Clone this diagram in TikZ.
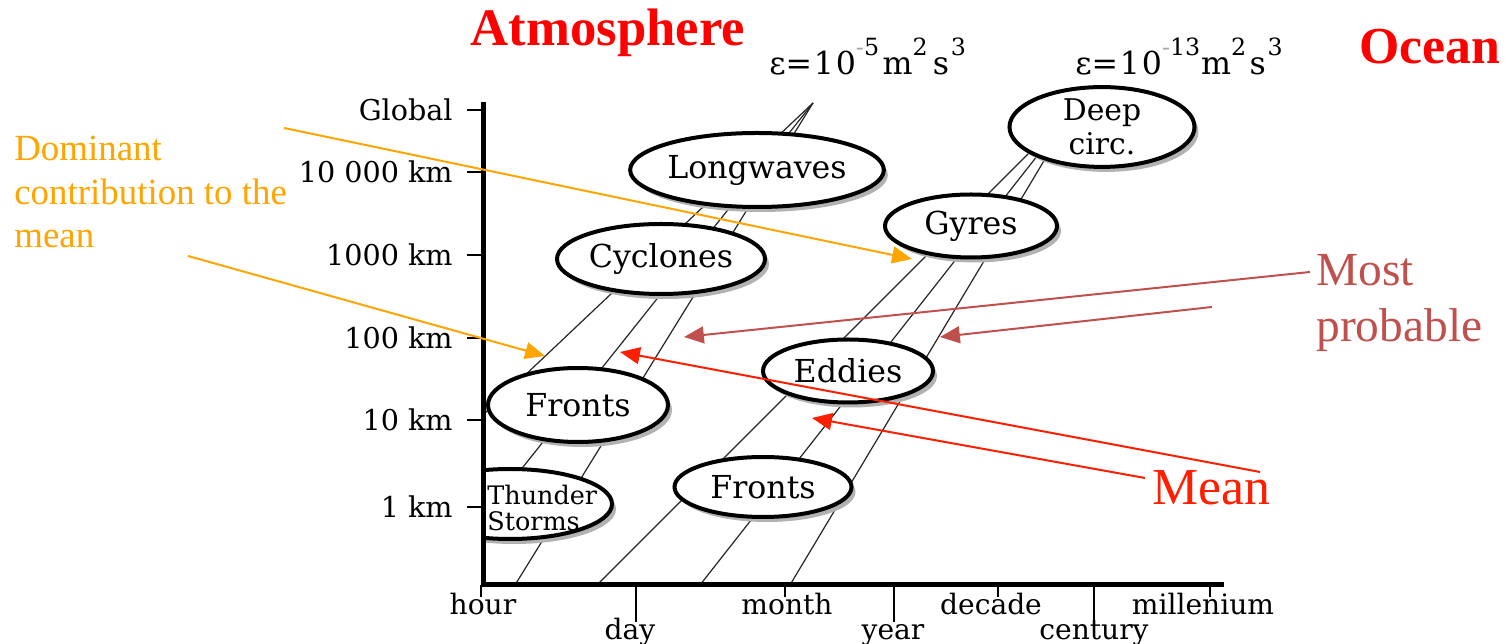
\documentclass[tikz,border=0pt]{standalone}
\usepackage{fontspec}
\setmainfont{Liberation Serif}
\newfontfamily\dvs{DejaVu Serif}
\usetikzlibrary{shapes.geometric,shadows,arrows.meta}
\newlength\pxu
\setlength\pxu{0.02cm}
\definecolor{orng}{RGB}{255,165,0}
\definecolor{mprob}{RGB}{192,80,77}
\definecolor{meanred}{RGB}{255,30,0}
\definecolor{titlered}{RGB}{255,0,0}
\newcommand{\supx}[1]{\raisebox{11pt}{\fontsize{13.5}{15}\selectfont #1}}
\begin{document}
\begin{tikzpicture}[x=0.02cm,y=-0.02cm,
  blob/.style={ellipse, draw=black, line width=4\pxu, fill=white, inner sep=0pt,
    font=\dvs\fontsize{18}{21}\selectfont, align=center,
    drop shadow={shadow xshift=4\pxu, shadow yshift=-5\pxu, fill=black!30, opacity=1}},
  epsline/.style={black!85, line width=1.2\pxu},
  axisline/.style={black, line width=5\pxu},
  tick/.style={black, line width=2\pxu},
  ylab/.style={anchor=east, inner sep=0pt, font=\dvs\fontsize{16.3}{18}\selectfont},
  xlab/.style={anchor=base, inner sep=0pt, font=\dvs\fontsize{16}{18}\selectfont},
  epslab/.style={anchor=base west, inner sep=0pt, font=\dvs\fontsize{18}{20}\selectfont},
  arr/.style={line width=1.13pt, -{Triangle[length=11.3pt, width=9.6pt]}}
]
\fill[white] (0,0) rectangle (1508,644);
\useasboundingbox (0,0) rectangle (1508,644);

% epsilon lines (behind the ellipses)
\coordinate (atop) at (813,103);
\coordinate (otop) at (1078,104);
\coordinate (a1) at (484,414);
\coordinate (a2) at (484,516);
\coordinate (a3) at (515,585);
\coordinate (o1) at (597,585);
\coordinate (o2) at (700,585);
\coordinate (o3) at (790,585);
\draw[epsline] (a1) -- (atop);
\draw[epsline] (a2) -- (atop);
\draw[epsline] (a3) -- (atop);
\draw[epsline] (o1) -- (otop);
\draw[epsline] (o2) -- (otop);
\draw[epsline] (o3) -- (otop);

% ellipses
\node[blob, minimum width=222\pxu, minimum height=74\pxu] (lw) at (757,170) {Longwaves};
\node[blob, minimum width=208\pxu, minimum height=70\pxu] (cy) at (661,259) {Cyclones};
\node[blob, minimum width=180\pxu, minimum height=74\pxu] (fa) at (578,405) {Fronts};
\begin{scope}
  \clip (484,0) rectangle (1508,644);
  \node[blob, minimum width=204\pxu, minimum height=70\pxu] (ts) at (510,504) {};
\end{scope}
\node[anchor=west, align=left, inner sep=0pt, font=\dvs\fontsize{14.5}{15}\selectfont] (tst) at (487,508) {Thunder\\Storms};
\node[blob, minimum width=177\pxu, minimum height=60\pxu] (fo) at (763,487) {Fronts};
\node[blob, minimum width=170\pxu, minimum height=63\pxu] (ed) at (848,371) {Eddies};
\node[blob, minimum width=172\pxu, minimum height=63\pxu] (gy) at (971,226) {Gyres};
\node[blob, minimum width=185\pxu, minimum height=70\pxu, font=\dvs\fontsize{17}{19.5}\selectfont] (dc) at (1102,127) {Deep\\circ.};

% axes
\coordinate (axt) at (483,102);
\coordinate (ax0) at (483,585);
\coordinate (axr) at (1224,585);
\draw[axisline] (axt) -- (ax0) -- (axr);

% y ticks and labels
\foreach \yy/\lab in {110/Global, 172/10 000 km, 255/1000 km, 338/100 km, 420/10 km, 507/1 km}{
  \draw[tick] (467,\yy) -- (483,\yy);
  \node[ylab] at (453,\yy) {\lab};
}
% x ticks
\foreach \xx in {481,785,998,1210}{ \draw[tick] (\xx,585) -- (\xx,597); }
\foreach \xx in {636,894,1094}{ \draw[tick] (\xx,585) -- (\xx,622); }
\node[xlab] (xh) at (483,615) {hour};
\node[xlab] (xm) at (787,615) {month};
\node[xlab] (xd) at (991,615) {decade};
\node[xlab] (xk) at (1203,615) {millenium};
\node[xlab] (xy1) at (630,640) {day};
\node[xlab] (xy2) at (893,640) {year};
\node[xlab] (xc) at (1094,640) {century};

% epsilon labels
\node[epslab] (e1) at (769,75)
  {ε=\kern1pt1\kern1pt0\supx{\textcolor{black!35}{-}5}\kern2pt m\supx{2}\kern3pt s\supx{\kern1pt3}};
\node[epslab] (e2) at (1075,75)
  {ε=\kern1pt1\kern1pt0\supx{\textcolor{black!35}{-}13}\kern0.5pt m\supx{2}\kern2pt s\supx{\kern1pt 3}};

% titles and annotations
\node[text=titlered, font=\bfseries\fontsize{30}{33}\selectfont] (atm) at (608,33) {Atmosphere};
\node[text=titlered, font=\bfseries\fontsize{29.5}{33}\selectfont] (oce) at (1430,47) {Ocean};
\node[text=orng, anchor=west, align=left, inner sep=0pt, font=\fontsize{21}{25}\selectfont] (dom) at (14,192) {Dominant\\contribution to the\\mean};
\node[text=mprob, anchor=west, align=left, inner sep=0pt, font=\fontsize{27}{31.7}\selectfont] (mp) at (1316,303) {Most\\probable};
\node[text=meanred, font=\fontsize{29.5}{32}\selectfont] (mn) at (1211,488) {Mean};

% arrows
\coordinate (o1s) at (284,128); \coordinate (o1e) at (912,259);
\coordinate (o2s) at (188,256); \coordinate (o2e) at (545,356);
\coordinate (p1s) at (1310,272); \coordinate (p1e) at (684,337);
\coordinate (p2s) at (1212,307); \coordinate (p2e) at (940,337);
\coordinate (m1s) at (1260,472); \coordinate (m1e) at (620,352);
\coordinate (m2s) at (1145,478); \coordinate (m2e) at (812,418);
\draw[arr, orng] (o1s) -- (o1e);
\draw[arr, orng] (o2s) -- (o2e);
\draw[arr, mprob] (p1s) -- (p1e);
\draw[arr, mprob] (p2s) -- (p2e);
\draw[arr, meanred] (m1s) -- (m1e);
\draw[arr, meanred] (m2s) -- (m2e);
\end{tikzpicture}
\end{document}
